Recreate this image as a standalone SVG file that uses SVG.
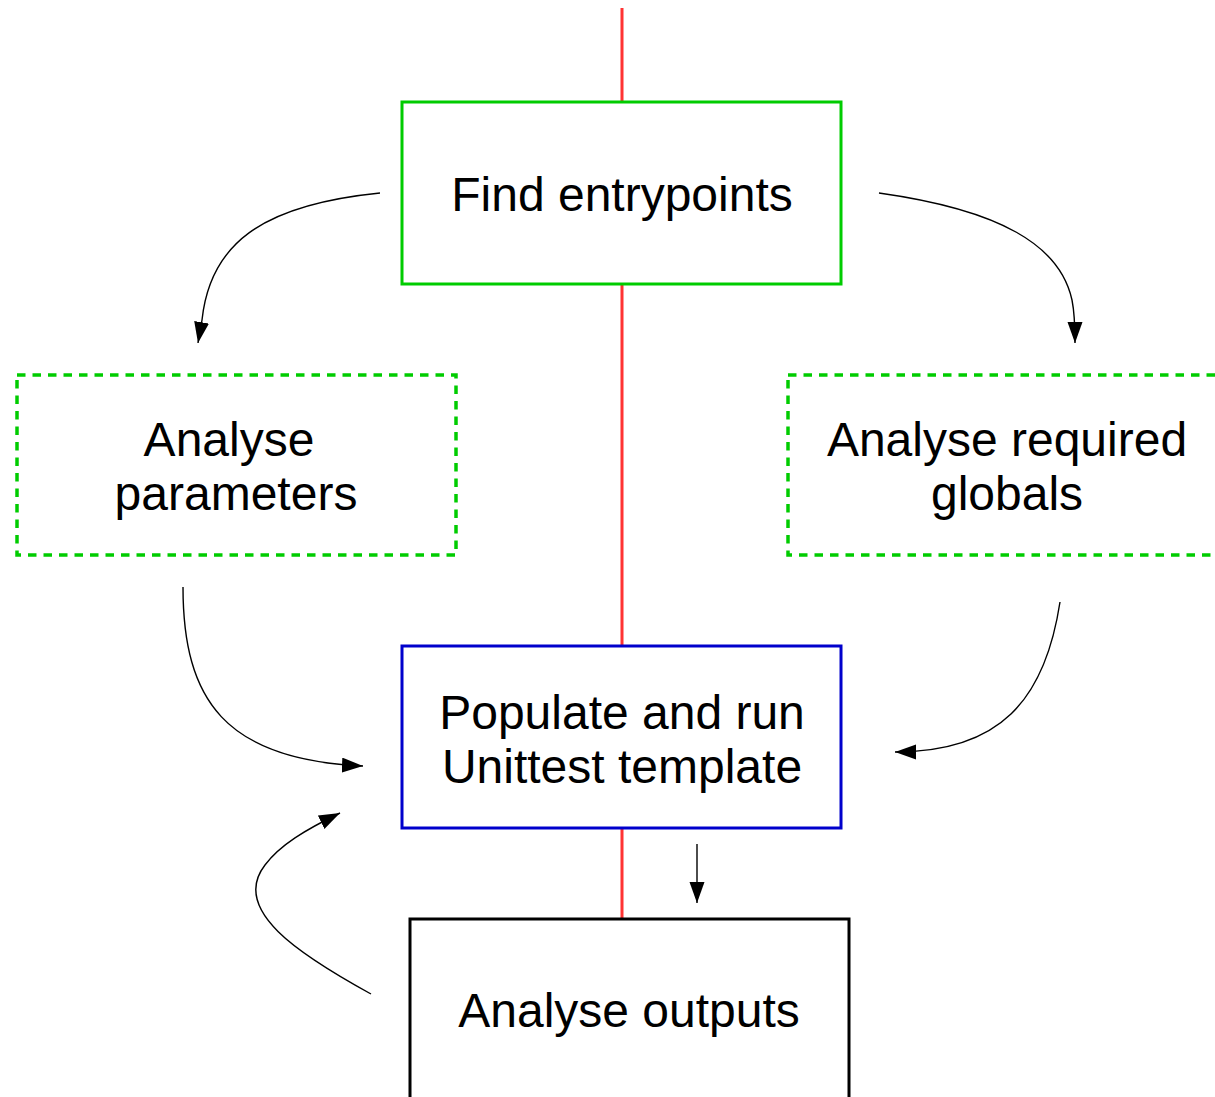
<svg xmlns="http://www.w3.org/2000/svg" width="1215" height="1097" viewBox="0 0 1215 1097">
<style>
.lbl{font-family:"Liberation Sans",Arial,sans-serif;font-size:48px;fill:#000;text-anchor:middle}
.box{fill:#fff;stroke-width:3}
.dash{fill:#fff;stroke:#00cc00;stroke-width:3.5;stroke-dasharray:8.5 7}
.conn{fill:none;stroke:#000;stroke-width:1.4}
</style>
<defs>
<marker id="ah" markerUnits="userSpaceOnUse" markerWidth="22" markerHeight="16" refX="21" refY="7.5" orient="auto">
<path d="M0,0 L21,7.5 L0,15 z" fill="#000"/>
</marker>
</defs>
<g id="spine">
<line x1="622" y1="8" x2="622" y2="918" stroke="#ff3333" stroke-width="3"/>
</g>
<g id="find">
<rect class="box" x="402" y="102" width="439" height="182" stroke="#00cc00"/>
<text class="lbl" x="622" y="211">Find entrypoints</text>
</g>
<g id="params">
<rect class="dash" x="17" y="375" width="439" height="180"/>
<text class="lbl" x="229" y="456">Analyse</text>
<text class="lbl" x="236" y="510">parameters</text>
</g>
<g id="globals">
<rect class="dash" x="788" y="375" width="439" height="180"/>
<text class="lbl" x="1007" y="456">Analyse required</text>
<text class="lbl" x="1007" y="510">globals</text>
</g>
<g id="populate">
<rect class="box" x="402" y="646" width="439" height="182" stroke="#0000cc"/>
<text class="lbl" x="622" y="729">Populate and run</text>
<text class="lbl" x="622" y="783">Unittest template</text>
</g>
<g id="outputs">
<rect class="box" x="410" y="919" width="439" height="190" stroke="#000"/>
<text class="lbl" x="629" y="1027">Analyse outputs</text>
</g>
<g id="connectors">
<path class="conn" d="M380,193 C260,205 210,245 202,320 L198,343" marker-end="url(#ah)"/>
<path class="conn" d="M879,193 C1000,210 1060,245 1072,300 C1075,315 1075,330 1075,343" marker-end="url(#ah)"/>
<path class="conn" d="M183,587 C183,700 225,760 363,766" marker-end="url(#ah)"/>
<path class="conn" d="M1060,602 C1045,700 1000,752 895,752" marker-end="url(#ah)"/>
<path class="conn" d="M371,994 C300,955 230,910 265,865 C280,845 305,830 340,813" marker-end="url(#ah)"/>
<path class="conn" d="M697,844 L697,903" marker-end="url(#ah)"/>
</g>
</svg>
